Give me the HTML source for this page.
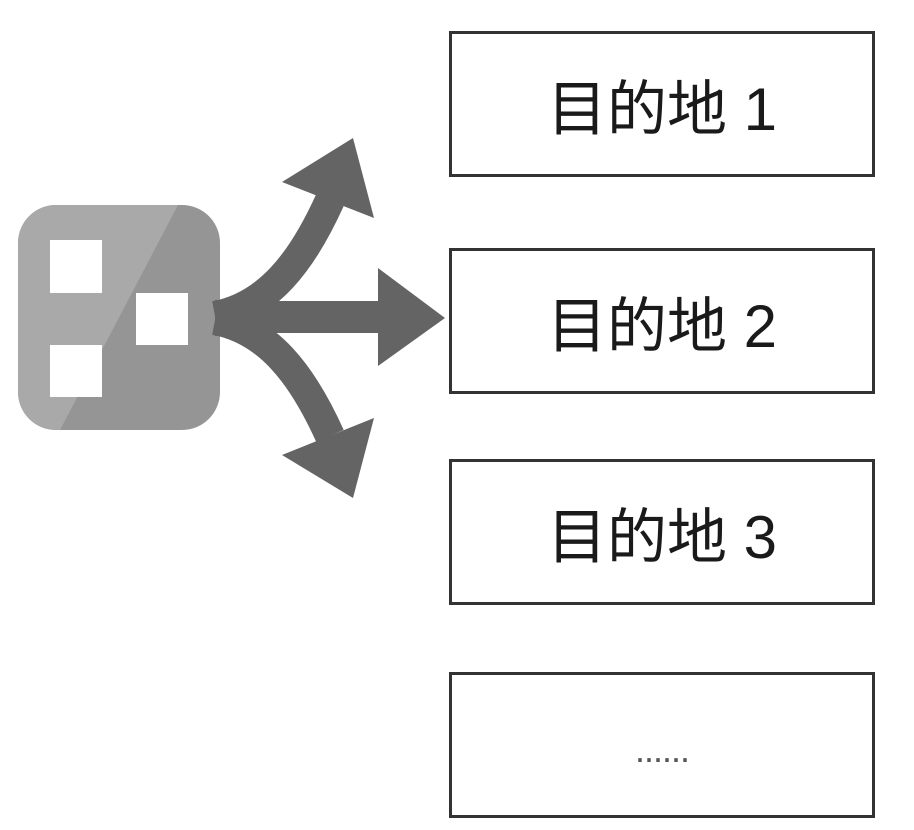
<!DOCTYPE html>
<html><head><meta charset="utf-8"><style>
html,body{margin:0;padding:0;background:#fff;}
body{width:914px;height:830px;position:relative;overflow:hidden;font-family:"Liberation Sans","Noto Sans CJK SC",sans-serif;}
.b{position:absolute;left:449px;width:420px;height:140px;border:3px solid #333;box-sizing:content-box;display:flex;align-items:center;justify-content:center;font-size:60px;color:#1a1a1a;}
</style></head><body>
<svg width="914" height="830" style="position:absolute;left:0;top:0">
<defs><clipPath id="c"><rect x="18" y="205" width="202" height="225" rx="38"/></clipPath></defs>
<g clip-path="url(#c)">
<rect x="18" y="205" width="202" height="225" fill="#959595"/>
<polygon points="18,205 178,205 60,430 18,430" fill="#a9a9a9"/>
</g>
<rect x="50" y="240" width="52" height="53" fill="#fff"/>
<rect x="136" y="293" width="52" height="52" fill="#fff"/>
<rect x="50" y="345" width="52" height="52" fill="#fff"/>
<g fill="#646464">
<rect x="215" y="301" width="165" height="32"/>
<polygon points="378,268 445,318 378,366"/>
<polygon points="282,182 353,138 374,218"/>
<polygon points="282,455 353,498 374,418"/>
</g>
<g fill="none" stroke="#646464" stroke-width="30">
<path d="M215,316 C268,306 302,262 330,200"/>
<path d="M215,320 C268,330 302,374 330,436"/>
</g>
<polygon points="215,300 240,300 240,336 215,336" fill="#646464"/>
</svg>
<div class="b" style="top:31px">目的地 1</div>
<div class="b" style="top:248px">目的地 2</div>
<div class="b" style="top:459px">目的地 3</div>
<div style="position:absolute;left:449px;width:426px;top:730px;text-align:center;font-size:36px;line-height:40px;color:#555;letter-spacing:-1px">......</div>
<div class="b" style="top:672px;background:transparent"></div>
</body></html>
